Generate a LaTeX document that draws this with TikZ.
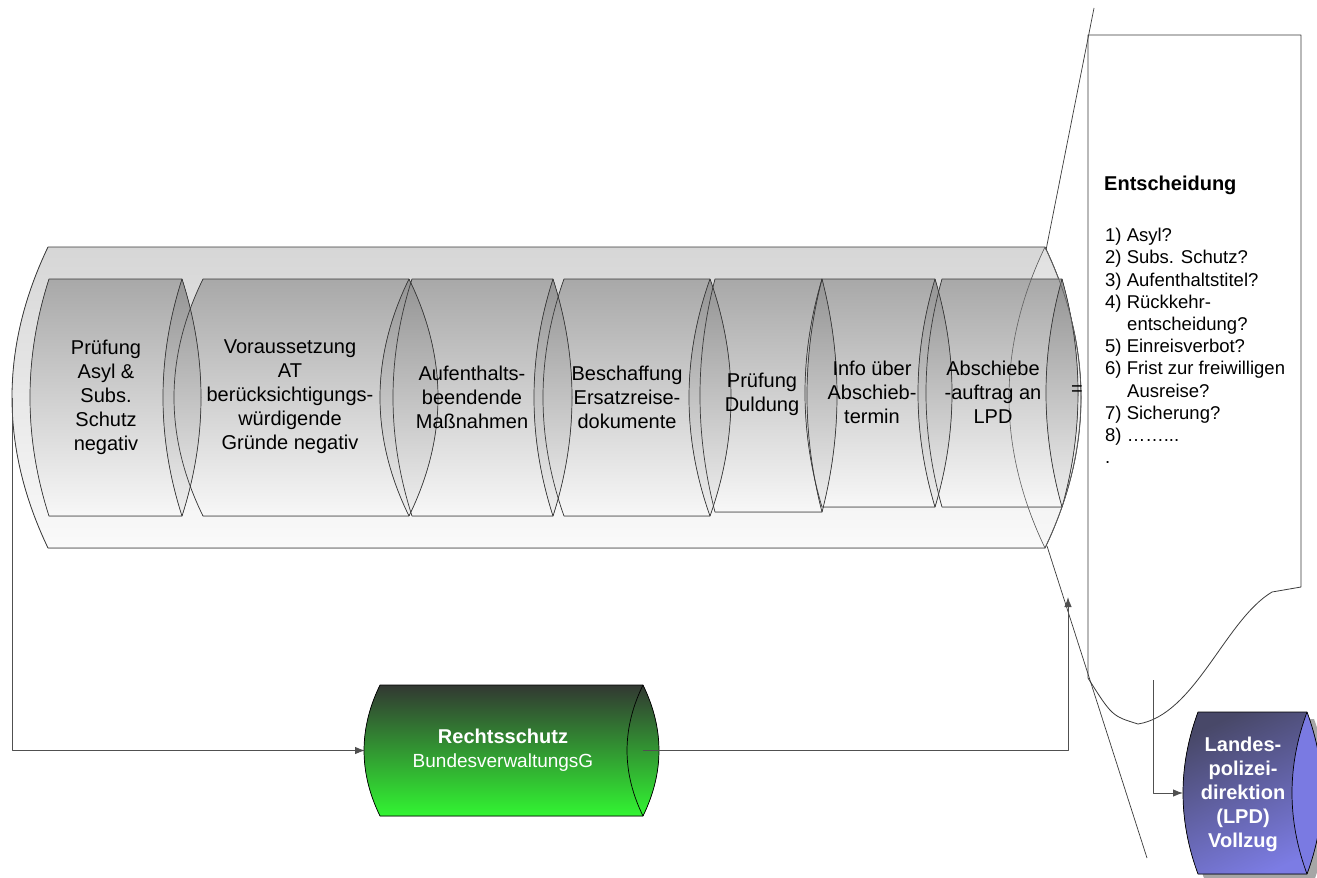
\documentclass[tikz,border=0pt]{standalone}
\usepackage{fontspec}
\setmainfont{Liberation Sans}
\usetikzlibrary{arrows.meta}

\definecolor{edge}{HTML}{3A3A3A}
\definecolor{conn}{HTML}{505050}
\definecolor{rsTop}{RGB}{50,56,50}
\definecolor{rsBot}{RGB}{50,245,50}
\definecolor{lpdTop}{RGB}{72,72,104}
\definecolor{lpdBot}{RGB}{124,124,228}
\definecolor{lpdEnd}{RGB}{122,122,226}

\begin{document}
\begin{tikzpicture}[x=1pt, y=-1pt, >={Latex[length=10pt, width=7.5pt]}, line join=round,
	cyltext/.style={align=center, inner sep=0pt, font=\fontsize{20}{24}\selectfont},
	wire/.style={conn, line width=0.9pt}]
	
	% --- Constants ---
	\def\yt{279}
	% xl / xr / yb / a
	\def\cyls{49/182/516/19, 203/409/516/29, 412/553/516/19, 564/710/516/21,
		715/822/512/15, 822/935/507/17, 942/1062/507/16}
	
	\useasboundingbox (0,0) rectangle (1317,878);
	
	% =======================================================
	% OUTER CYLINDER
	% =======================================================
	\fill[top color=black!16, bottom color=black!2]
	(48,247) -- (1045,247) .. controls (1093,347.3) and (1093,447.7) .. (1045,548)
	-- (48,548) .. controls (0,447.7) and (0,347.3) .. (48,247) -- cycle;
	\fill[top color=black!12, bottom color=black!3]
	(1045,247) .. controls (1093,347.3) and (1093,447.7) .. (1045,548)
	.. controls (997,447.7) and (997,347.3) .. (1045,247) -- cycle;
	\draw[edge, line width=0.8pt]
	(48,247) -- (1045,247) .. controls (1093,347.3) and (1093,447.7) .. (1045,548)
	-- (48,548) .. controls (0,447.7) and (0,347.3) .. (48,247) -- cycle;
	
	% =======================================================
	% INNER CYLINDERS
	% =======================================================
	% 1. bodies
	\foreach \xl/\xr/\yb/\a in \cyls {
		\pgfmathsetmacro{\ya}{\yt+(\yb-\yt)/3}
		\pgfmathsetmacro{\yc}{\yb-(\yb-\yt)/3}
		\pgfmathsetmacro{\k}{4/3*\a}
		\fill[top color=black!34, bottom color=black!3]
		(\xl,\yt) -- (\xr,\yt) .. controls ({\xr+\k},\ya) and ({\xr+\k},\yc) .. (\xr,\yb)
		-- (\xl,\yb) .. controls ({\xl-\k},\yc) and ({\xl-\k},\ya) .. (\xl,\yt) -- cycle;
	}
	% 2. end faces
	\foreach \xl/\xr/\yb/\a in \cyls {
		\pgfmathsetmacro{\ya}{\yt+(\yb-\yt)/3}
		\pgfmathsetmacro{\yc}{\yb-(\yb-\yt)/3}
		\pgfmathsetmacro{\k}{4/3*\a}
		\fill[top color=black!42, bottom color=black!6]
		(\xr,\yt) .. controls ({\xr+\k},\ya) and ({\xr+\k},\yc) .. (\xr,\yb)
		.. controls ({\xr-\k},\yc) and ({\xr-\k},\ya) .. (\xr,\yt) -- cycle;
	}
	% 3. outlines
	\foreach \xl/\xr/\yb/\a in \cyls {
		\pgfmathsetmacro{\ya}{\yt+(\yb-\yt)/3}
		\pgfmathsetmacro{\yc}{\yb-(\yb-\yt)/3}
		\pgfmathsetmacro{\k}{4/3*\a}
		\draw[edge, line width=0.7pt]
		(\xl,\yt) -- (\xr,\yt) .. controls ({\xr+\k},\ya) and ({\xr+\k},\yc) .. (\xr,\yb)
		-- (\xl,\yb) .. controls ({\xl-\k},\yc) and ({\xl-\k},\ya) .. (\xl,\yt) -- cycle;
		\draw[edge, line width=0.7pt]
		(\xr,\yt) .. controls ({\xr-\k},\ya) and ({\xr-\k},\yc) .. (\xr,\yb);
	}
	
	% outer end face on top
	\draw[edge!80, line width=0.6pt]
	(1045,247) .. controls (1093,347.3) and (1093,447.7) .. (1045,548)
	.. controls (997,447.7) and (997,347.3) .. (1045,247);
	
	\node[cyltext] (c1) at (106,397) {Prüfung\\Asyl \&\\Subs.\\Schutz\\negativ};
	\node[cyltext] (c2) at (290,397) {Voraussetzung\\AT\\berücksichtigungs-\\würdigende\\Gründe negativ};
	\node[cyltext] (c3) at (472,397) {Aufenthalts-\\beendende\\Maßnahmen};
	\node[cyltext] (c4) at (627,397) {Beschaffung\\Ersatzreise-\\dokumente};
	\node[cyltext] (c5) at (762,394) {Prüfung\\Duldung};
	\node[cyltext] (c6) at (872,392) {Info über\\Abschieb-\\termin};
	\node[cyltext] (c7) at (993,392) {Abschiebe\\-auftrag an\\LPD};
	\node[cyltext] (eq) at (1077,391) {=};
	
	% =======================================================
	% CALLOUT
	% =======================================================
	\draw[edge, line width=0.7pt] (1046,250) -- (1094,8);
	\draw[edge, line width=0.7pt] (1047,546) -- (1147,858);
	\draw[edge, line width=0.8pt]
	(1088,35) -- (1301,35) -- (1301,587) -- (1272,592)
	.. controls (1225,620) and (1195,715) .. (1138,724)
	.. controls (1112,716) .. (1088,678) -- cycle;
	
	\node[anchor=west, inner sep=0pt, font=\fontsize{20}{22}\selectfont\bfseries]
	(entT) at (1104,185) {Entscheidung};
	\node[anchor=north west, align=left, inner sep=0pt, font=\fontsize{18.5}{22.2}\selectfont]
	(entL) at (1105,228) {1) Asyl?\\2) Subs. Schutz?\\3) Aufenthaltstitel?\\4) Rückkehr-\\
		\hspace*{22pt}entscheidung?\\5) Einreisverbot?\\6) Frist zur freiwilligen\\
		\hspace*{22pt}Ausreise?\\7) Sicherung?\\8) ……...\\.};
	
	% =======================================================
	% RECHTSSCHUTZ
	% =======================================================
	\fill[top color=rsTop, bottom color=rsBot]
	(380,685) -- (643,685) .. controls (664.3,728.7) and (664.3,772.3) .. (643,816)
	-- (380,816) .. controls (358.7,772.3) and (358.7,728.7) .. (380,685) -- cycle;
	\draw[black, line width=0.7pt]
	(380,685) -- (643,685) .. controls (664.3,728.7) and (664.3,772.3) .. (643,816)
	-- (380,816) .. controls (358.7,772.3) and (358.7,728.7) .. (380,685) -- cycle;
	\draw[black, line width=0.7pt] (643,685) .. controls (621.7,728.7) and (621.7,772.3) .. (643,816);
	\node[white, align=center, inner sep=0pt, font=\fontsize{19}{24}\selectfont]
	(rs) at (503,750) {{\fontsize{20}{24}\selectfont\bfseries Rechtsschutz}\\BundesverwaltungsG};
	
	% =======================================================
	% LPD
	% =======================================================
	\fill[black!35]
	(1205,719) -- (1314,719) .. controls (1334,773) and (1334,827) .. (1314,881)
	-- (1205,881) .. controls (1185,827) and (1185,773) .. (1205,719) -- cycle;
	\fill[top color=lpdTop, bottom color=lpdBot, shading angle=25]
	(1198,712) -- (1307,712) .. controls (1327,766) and (1327,820) .. (1307,874)
	-- (1198,874) .. controls (1178,820) and (1178,766) .. (1198,712) -- cycle;
	\fill[lpdEnd]
	(1307,712) .. controls (1327,766) and (1327,820) .. (1307,874)
	.. controls (1287,820) and (1287,766) .. (1307,712) -- cycle;
	\draw[black, line width=0.7pt]
	(1198,712) -- (1307,712) .. controls (1327,766) and (1327,820) .. (1307,874)
	-- (1198,874) .. controls (1178,820) and (1178,766) .. (1198,712) -- cycle;
	\draw[black, line width=0.7pt] (1307,712) .. controls (1287,766) and (1287,820) .. (1307,874);
	\node[white, align=center, inner sep=0pt, font=\fontsize{20}{24}\selectfont\bfseries]
	(lpd) at (1243,794) {Landes-\\polizei-\\direktion\\(LPD)\\Vollzug};
	
	% =======================================================
	% CONNECTORS
	% =======================================================
	\coordinate (outW) at (12,397.5);
	\coordinate (rsW) at (365,750.5);
	\coordinate (rsE) at (643,750.5);
	\coordinate (back) at (1068,597);
	\coordinate (lpdIn) at (1153,680);
	\coordinate (lpdW) at (1183,793);
	
	\draw[wire, ->] (outW) |- (rsW);
	\draw[wire, ->] (rsE) -| (back);
	\draw[wire, ->] (lpdIn) |- (lpdW);
	
\end{tikzpicture}
\end{document}
